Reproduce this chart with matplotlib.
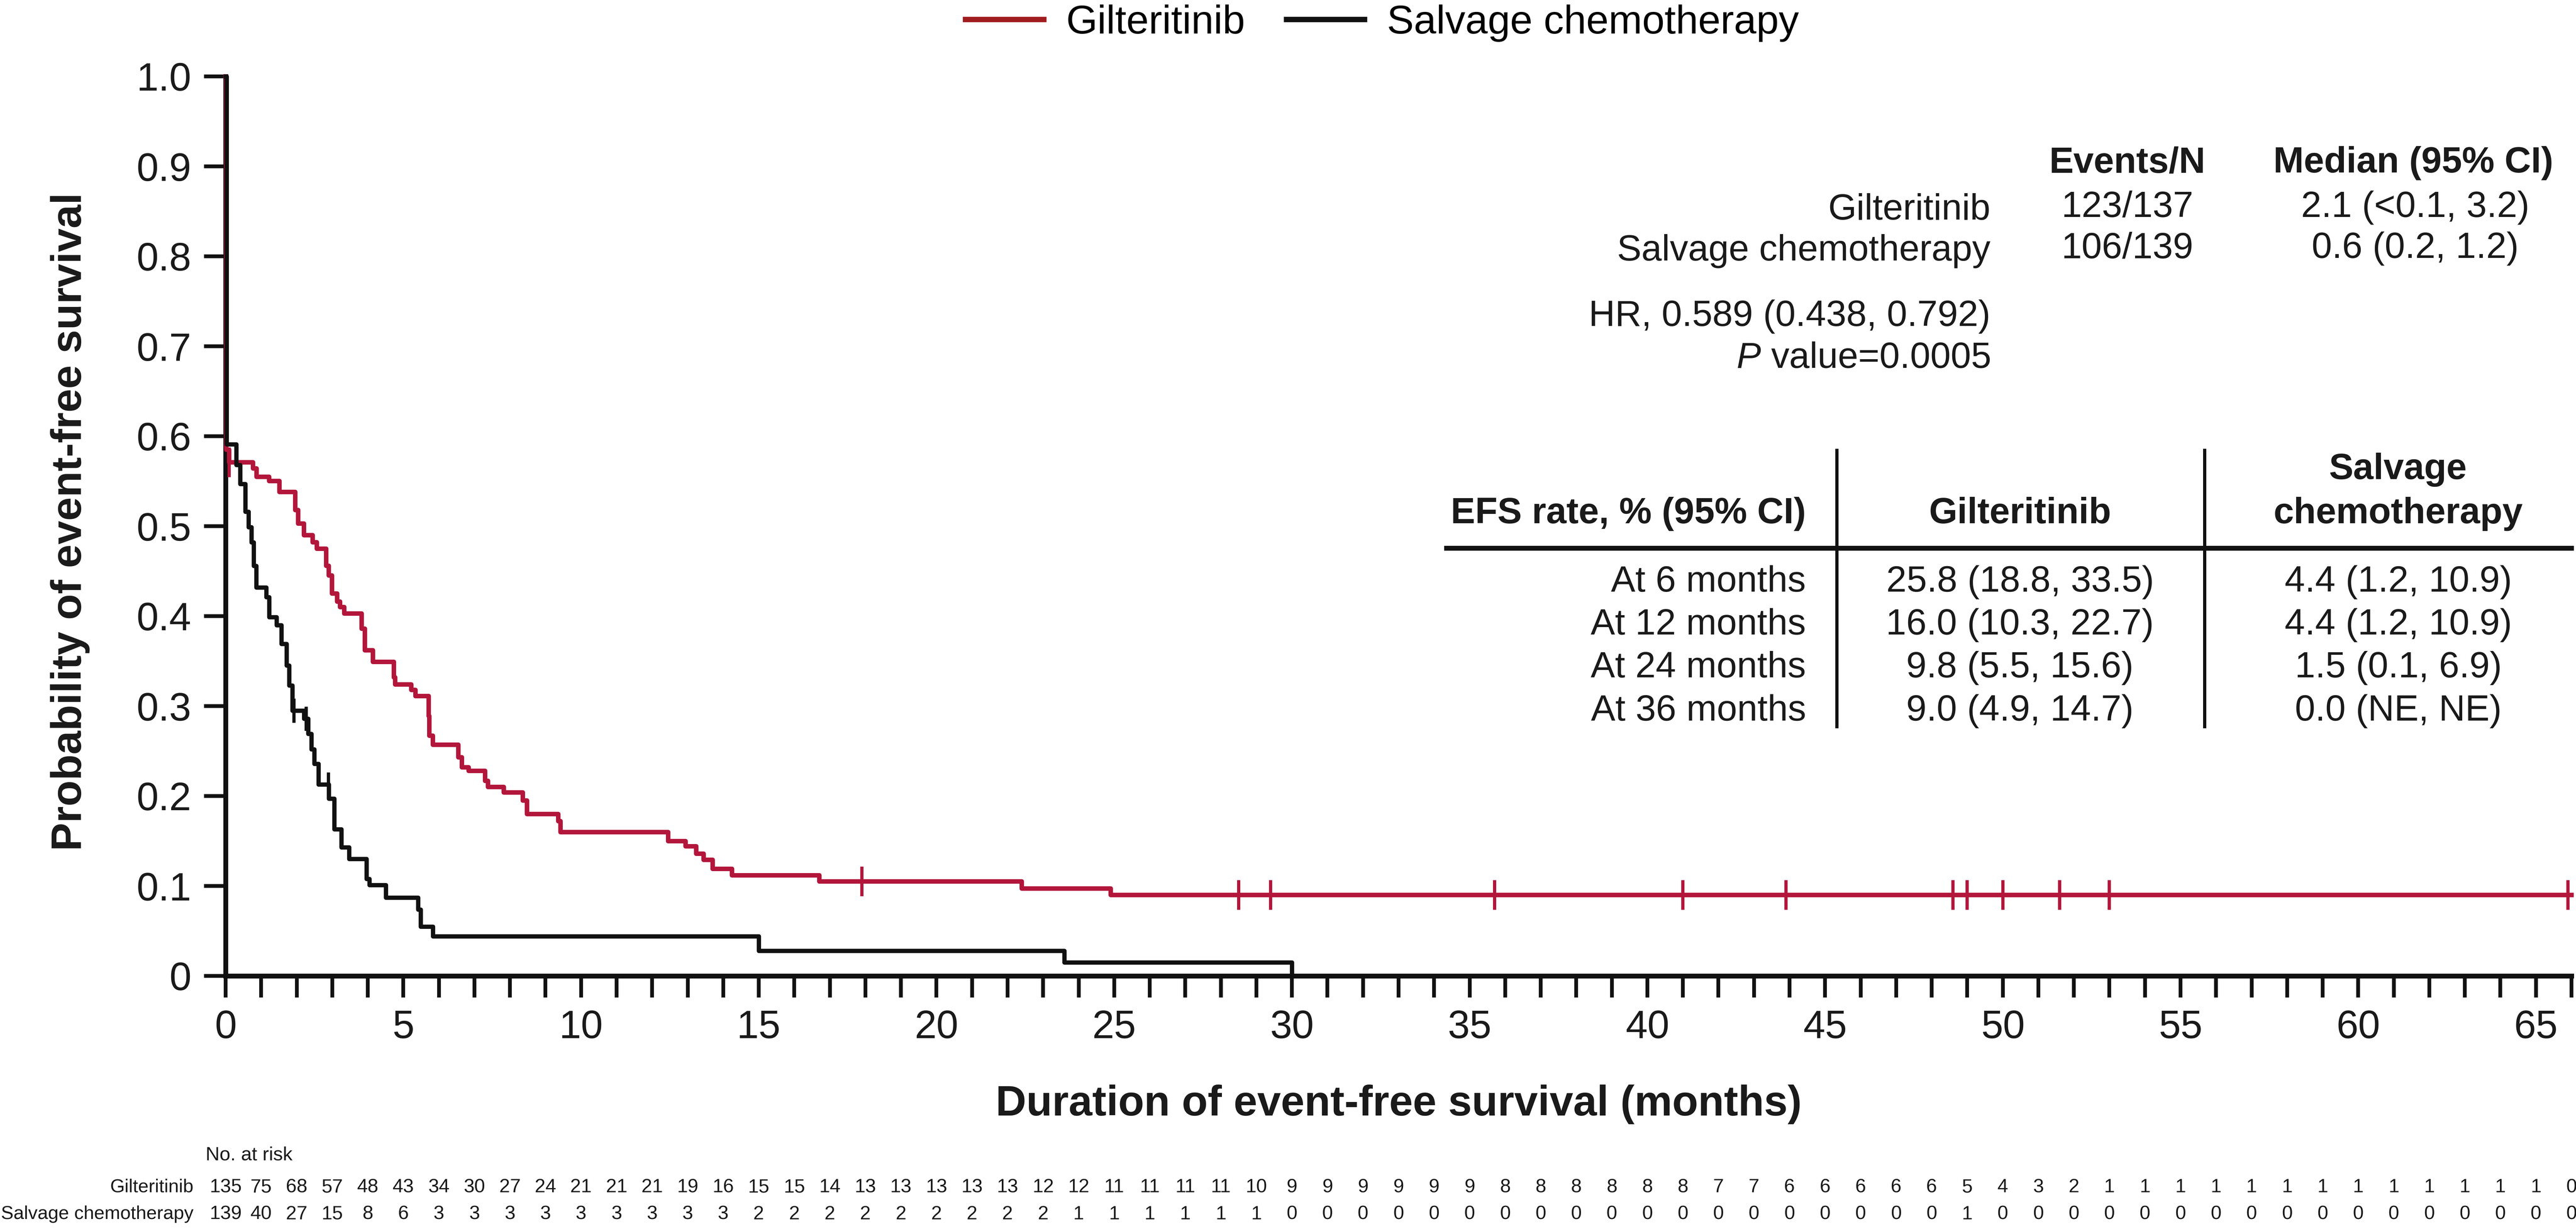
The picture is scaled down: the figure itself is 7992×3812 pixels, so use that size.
import numpy as np
import matplotlib
matplotlib.use('Agg')
import matplotlib.pyplot as plt
from matplotlib.lines import Line2D
from matplotlib.ticker import MultipleLocator, FixedLocator, FuncFormatter
import matplotlib.transforms as mtransforms

plt.rcParams['font.family'] = ['Liberation Sans', 'DejaVu Sans']
plt.rcParams['mathtext.fontset'] = 'custom'
plt.rcParams['mathtext.rm'] = 'Liberation Sans'
plt.rcParams['mathtext.it'] = 'Liberation Sans:italic'

# ---------------- data ----------------
series_names = ['Gilteritinib', 'Salvage chemotherapy']

gilt_time = [0, 0.02, 0.10, 0.77, 0.87, 1.22, 1.51, 1.96, 2.04, 2.20, 2.45, 2.57,
             2.83, 2.90, 2.99, 3.14, 3.22, 3.34, 3.83, 3.92, 4.14, 4.73, 4.77,
             5.22, 5.34, 5.71, 5.73, 5.83, 6.55, 6.65, 6.84, 7.30, 7.38, 7.83,
             8.36, 8.48, 9.36, 9.42, 12.45, 12.94, 13.24, 13.45, 13.70, 14.25,
             16.70, 22.40, 24.90, 66.0]
gilt_surv = [1.0, 0.585, 0.571, 0.564, 0.555, 0.550, 0.538, 0.518, 0.503, 0.490,
             0.482, 0.475, 0.456, 0.445, 0.425, 0.416, 0.410, 0.403, 0.386, 0.362,
             0.349, 0.332, 0.324, 0.318, 0.311, 0.289, 0.267, 0.257, 0.243, 0.232,
             0.228, 0.217, 0.210, 0.204, 0.195, 0.180, 0.172, 0.160, 0.150, 0.144,
             0.136, 0.129, 0.119, 0.112, 0.105, 0.097, 0.090, 0.090]
gilt_censor_time = [0.10, 17.9, 28.5, 29.4, 35.7, 41.0, 43.9, 48.6, 49.0, 50.0,
                    51.6, 53.0, 65.9]

salv_time = [0, 0.03, 0.30, 0.41, 0.55, 0.64, 0.73, 0.79, 0.86, 1.14, 1.22, 1.43,
             1.57, 1.71, 1.79, 1.88, 2.20, 2.32, 2.41, 2.49, 2.61, 2.90, 3.06,
             3.26, 3.47, 3.96, 4.04, 4.51, 5.41, 5.49, 5.83, 15.0, 23.6, 30.0]
salv_surv = [1.0, 0.591, 0.568, 0.547, 0.516, 0.499, 0.482, 0.456, 0.432, 0.421,
             0.399, 0.390, 0.369, 0.345, 0.323, 0.295, 0.286, 0.269, 0.252, 0.236,
             0.213, 0.197, 0.163, 0.143, 0.130, 0.108, 0.101, 0.087, 0.074, 0.055,
             0.044, 0.028, 0.015, 0.0]
salv_censor_time = [1.92, 2.27, 2.89]

risk_months = list(range(0, 67))
gilt_at_risk = [135, 75, 68, 57, 48, 43, 34, 30, 27, 24, 21, 21, 21, 19, 16, 15, 15,
                14, 13, 13, 13, 13, 13, 12, 12, 11, 11, 11, 11, 10,
                9, 9, 9, 9, 9, 9, 8, 8, 8, 8, 8, 8, 7, 7, 6, 6, 6, 6, 6, 5, 4, 3, 2,
                1, 1, 1, 1, 1, 1, 1, 1, 1, 1, 1, 1, 1, 0]
salv_at_risk = [139, 40, 27, 15, 8, 6, 3, 3, 3, 3, 3, 3, 3, 3, 3, 2, 2, 2, 2, 2, 2,
                2, 2, 2, 1, 1, 1, 1, 1, 1,
                0, 0, 0, 0, 0, 0, 0, 0, 0, 0, 0, 0, 0, 0, 0, 0, 0, 0, 0, 1, 0, 0, 0,
                0, 0, 0, 0, 0, 0, 0, 0, 0, 0, 0, 0, 0, 0]

events_n = ['123/137', '106/139']
medians = ['2.1 (<0.1, 3.2)', '0.6 (0.2, 1.2)']
hr_text = 'HR, 0.589 (0.438, 0.792)'
p_text = r'$\mathit{P}$ value=0.0005'

efs_header = ['EFS rate, % (95% CI)', 'Gilteritinib', 'Salvage', 'chemotherapy']
efs_rows = ['At 6 months', 'At 12 months', 'At 24 months', 'At 36 months']
efs_gilt = ['25.8 (18.8, 33.5)', '16.0 (10.3, 22.7)', '9.8 (5.5, 15.6)', '9.0 (4.9, 14.7)']
efs_salv = ['4.4 (1.2, 10.9)', '4.4 (1.2, 10.9)', '1.5 (0.1, 6.9)', '0.0 (NE, NE)']

x_major = list(range(0, 66, 5))
y_major = [0, 0.1, 0.2, 0.3, 0.4, 0.5, 0.6, 0.7, 0.8, 0.9, 1.0]

# ---------------- style ----------------
RED = '#B3163B'
LEG_RED = '#A01C1E'
BLACK = '#111111'
TXT = '#1a1a1a'

W, H = 7992, 3812
DPI = 600


def F(x, y):
    return (x / W, 1 - y / H)


def step_value(times, survs, t):
    idx = np.searchsorted(np.asarray(times), t, side='right') - 1
    return np.asarray(survs)[idx]


fig = plt.figure(figsize=(W / DPI, H / DPI), dpi=DPI)
fig.patch.set_facecolor('white')

ax_l, ax_b = F(700, 3027)
ax_r, ax_t = F(7978, 237)
ax = fig.add_axes([ax_l, ax_b, ax_r - ax_l, ax_t - ax_b])

ax.step(gilt_time, gilt_surv, where='post', color=RED, lw=1.68, zorder=3,
        clip_on=False)
gc = np.array(gilt_censor_time)
ax.plot(gc, step_value(gilt_time, gilt_surv, gc), ls='none', marker='|',
        ms=11, mew=1.2, color=RED, zorder=3, clip_on=False)

ax.step(salv_time, salv_surv, where='post', color=BLACK, lw=1.6, zorder=4,
        clip_on=False)
sc = np.array(salv_censor_time)
ax.plot(sc, step_value(salv_time, salv_surv, sc), ls='none', marker='|',
        ms=9, mew=1.2, color=BLACK, zorder=4, clip_on=False)

ax.set_xlim(0, 66)
ax.set_ylim(0, 1.0)
for s in ['top', 'right']:
    ax.spines[s].set_visible(False)
for s in ['left', 'bottom']:
    ax.spines[s].set_linewidth(1.8)
    ax.spines[s].set_color(BLACK)

ax.xaxis.set_major_locator(FixedLocator(x_major))
ax.xaxis.set_minor_locator(MultipleLocator(1))
ax.yaxis.set_major_locator(FixedLocator(y_major))
ax.yaxis.set_major_formatter(FuncFormatter(lambda v, p: '0' if abs(v) < 1e-9 else f'{v:.1f}'))
ax.tick_params(axis='both', which='both', direction='out', length=8.0, width=1.4,
               color=BLACK, labelsize=14.7, labelcolor=TXT)
ax.tick_params(axis='x', which='major', pad=4.5)
ax.tick_params(axis='y', which='major', pad=4.8)

ax.set_xlabel('Duration of event-free survival (months)', fontsize=15.8,
              fontweight='bold', color=TXT)
ax.xaxis.set_label_coords(0.5, (3027 - 3460) / 2790)
ax.xaxis.label.set_verticalalignment('baseline')
ax.set_ylabel('Probability of event-free survival', fontsize=15.8,
              fontweight='bold', color=TXT)
ax.yaxis.set_label_coords((252 - 700) / 7278, 0.505)
ax.yaxis.label.set_verticalalignment('baseline')

# legend
handles = [Line2D([], [], color=LEG_RED, lw=2.0), Line2D([], [], color=BLACK, lw=2.0)]
fig.legend(handles, series_names, loc='center', bbox_to_anchor=F(4288, 72),
           bbox_transform=fig.transFigure, ncol=2, frameon=False, fontsize=15,
           handlelength=1.94, handletextpad=0.56, columnspacing=1.02,
           borderpad=0, borderaxespad=0)

# stats block
fs = 13.6
fig.text(*F(6600, 535), 'Events/N', ha='center', va='baseline', fontsize=fs,
         fontweight='bold', color=TXT)
fig.text(*F(7487, 535), 'Median (95% CI)', ha='center', va='baseline', fontsize=fs,
         fontweight='bold', color=TXT)
for i, yb in enumerate([681, 808]):
    fig.text(*F(6175, yb), series_names[i], ha='right', va='baseline', fontsize=fs, color=TXT)
    fig.text(*F(6600, yb - 8), events_n[i], ha='center', va='baseline', fontsize=fs, color=TXT)
    fig.text(*F(7493, yb - 8), medians[i], ha='center', va='baseline', fontsize=fs, color=TXT)
fig.text(*F(6175, 1011), hr_text, ha='right', va='baseline', fontsize=fs, color=TXT)
fig.text(*F(6175, 1141), p_text, ha='right', va='baseline', fontsize=fs, color=TXT)

# EFS table
fig.text(*F(5603, 1623), efs_header[0], ha='right', va='baseline', fontsize=fs,
         fontweight='bold', color=TXT)
fig.text(*F(6267, 1623), efs_header[1], ha='center', va='baseline', fontsize=fs,
         fontweight='bold', color=TXT)
fig.text(*F(7440, 1486), efs_header[2], ha='center', va='baseline', fontsize=fs,
         fontweight='bold', color=TXT)
fig.text(*F(7440, 1623), efs_header[3], ha='center', va='baseline', fontsize=fs,
         fontweight='bold', color=TXT)
for i, yb in enumerate([1835, 1968, 2101, 2235]):
    fig.text(*F(5603, yb), efs_rows[i], ha='right', va='baseline', fontsize=fs, color=TXT)
    fig.text(*F(6267, yb), efs_gilt[i], ha='center', va='baseline', fontsize=fs, color=TXT)
    fig.text(*F(7441, yb), efs_salv[i], ha='center', va='baseline', fontsize=fs, color=TXT)

x1, y1 = F(4480, 1700)
x2, _ = F(7985, 1700)
fig.add_artist(Line2D([x1, x2], [y1, y1], transform=fig.transFigure, color=BLACK,
                      lw=1.8, solid_capstyle='butt'))
for xv in [5699, 6840]:
    xa, ya = F(xv, 1392)
    _, yb2 = F(xv, 2259)
    fig.add_artist(Line2D([xa, xa], [ya, yb2], transform=fig.transFigure, color=BLACK,
                          lw=1.2, solid_capstyle='butt'))

# number at risk
fs_r = 7.2
fig.text(*F(638, 3583), 'No. at risk', ha='left', va='center', fontsize=fs_r, color=TXT)
trans = mtransforms.blended_transform_factory(ax.transData, fig.transFigure)
rows = [(series_names[0], gilt_at_risk, 3683), (series_names[1], salv_at_risk, 3766)]
for name, vals, yc in rows:
    fig.text(*F(600, yc), name, ha='right', va='center', fontsize=7.0, color=TXT)
    for m, n in zip(risk_months, vals):
        ax.text(m, F(0, yc)[1], str(n), transform=trans, ha='center', va='center',
                fontsize=fs_r, color=TXT, clip_on=False)

fig.savefig('out.png', dpi=DPI, facecolor='white')
